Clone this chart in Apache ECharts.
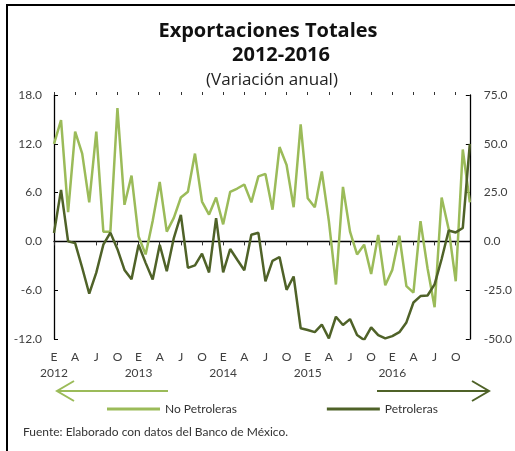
<!DOCTYPE html>
<html>
<head>
<meta charset="utf-8">
<script src="https://cdn.jsdelivr.net/npm/echarts@6/dist/echarts.min.js"></script>
<style>
  html, body { margin: 0; padding: 0; background: #fff; }
  #chart { width: 515px; height: 451px; }
</style>
</head>
<body>
<div id="chart"></div>
<script>
var years = ['2012', '2013', '2014', '2015', '2016'];
var monthLetters = ['E', 'F', 'M', 'A', 'M', 'J', 'J', 'A', 'S', 'O', 'N', 'D'];

// variacion anual, % (ene 2012 - dic 2016)
var noPetroleras = [
    12.0, 14.9, 3.6, 13.5, 10.8, 4.8, 13.5, 1.2, 1.2, 16.4, 4.5, 8.1,
    0.6, -1.6, 2.5, 7.3, 1.2, 2.9, 5.4, 6.1, 10.8, 4.9, 3.3, 5.4,
    2.1, 6.1, 6.5, 7.0, 4.8, 8.0, 8.3, 3.9, 11.6, 9.4, 4.2, 14.4,
    5.3, 4.2, 8.6, 2.5, -5.3, 6.7, 1.2, -1.6, -0.4, -4.0, 0.8, -5.4,
    -3.5, 0.7, -5.5, -6.3, 2.5, -3.3, -8.1, 5.4, 1.5, -4.9, 11.3, 4.8
];
var petroleras = [
    4.3, 26.4, 0.0, -0.9, -13.5, -26.8, -16.0, -1.7, 4.5, -4.0, -14.6, -19.4,
    -1.7, -11.0, -19.5, -1.7, -15.3, 1.7, 13.6, -13.6, -12.3, -6.3, -15.9, 11.9,
    -15.9, -3.9, -9.4, -14.8, 3.4, 4.4, -20.5, -10.0, -8.0, -24.8, -18.0, -44.5,
    -45.4, -46.5, -42.6, -49.7, -38.6, -42.8, -39.8, -48.0, -50.5, -44.0, -48.0, -49.7,
    -48.5, -46.5, -41.5, -31.3, -28.0, -27.7, -22.0, -9.0, 5.6, 4.6, 6.9, 50.0
];

var categories = [];
years.forEach(function (y) {
    monthLetters.forEach(function (m, i) {
        categories.push(i === 0 ? m + '\n' + y : m);
    });
});

var light = '#9bbb59';
var dark = '#4f6228';
var font = 'Lato';
var titleFont = 'Open Sans';

var chart = echarts.init(document.getElementById('chart'));
chart.setOption({
    animation: false,
    textStyle: { fontFamily: font },
    grid: { left: 54, right: 42, top: 95, bottom: 112 },
    legend: {
        left: 102, top: 398,
        itemWidth: 53, itemHeight: 3, itemGap: 90,
        icon: 'rect',
        textStyle: { fontSize: 12, color: '#333', fontFamily: font },
        data: ['No Petroleras', 'Petroleras']
    },
    xAxis: [
        {
            type: 'category', data: categories, boundaryGap: false,
            axisLine: { show: false }, axisTick: { show: false },
            axisLabel: { interval: 2, color: '#404040', fontSize: 12, margin: 10, lineHeight: 16 }
        },
        {
            type: 'category', data: categories, boundaryGap: false,
            axisLine: { onZero: true, lineStyle: { color: '#000', width: 1.3 } },
            axisTick: { interval: 2, inside: true, length: 4, lineStyle: { color: '#333' } },
            axisLabel: { show: false }
        },
        {
            type: 'category', data: categories, boundaryGap: false,
            axisLine: { onZero: true, show: false },
            axisTick: { interval: 2, inside: false, length: 3, lineStyle: { color: '#333' } },
            axisLabel: { show: false }
        }
    ],
    yAxis: [
        {
            type: 'value', min: -12, max: 18, interval: 6,
            axisLine: { show: true, lineStyle: { color: '#000', width: 1.3 } },
            axisTick: { show: true, inside: true, length: 4 },
            splitLine: { show: false },
            axisLabel: { color: '#404040', fontSize: 12, margin: 12,
                formatter: function (v) { return v.toFixed(1); } }
        },
        {
            type: 'value', min: -50, max: 75, interval: 25,
            axisLine: { show: true, lineStyle: { color: '#000', width: 1.3 } },
            axisTick: { show: true, inside: true, length: 4 },
            splitLine: { show: false },
            axisLabel: { color: '#404040', fontSize: 12, margin: 14,
                formatter: function (v) { return v.toFixed(1); } }
        }
    ],
    series: [
        {
            name: 'No Petroleras', type: 'line', data: noPetroleras,
            yAxisIndex: 0, showSymbol: false, color: light,
            lineStyle: { width: 2.5, color: light }
        },
        {
            name: 'Petroleras', type: 'line', data: petroleras,
            yAxisIndex: 1, showSymbol: false, color: dark,
            lineStyle: { width: 2.5, color: dark }
        }
    ],
    graphic: [
        // marco
        { type: 'line', shape: { x1: 7, y1: 5, x2: 515, y2: 5 }, style: { stroke: '#000', lineWidth: 2 } },
        { type: 'line', shape: { x1: 7, y1: 4, x2: 7, y2: 451 }, style: { stroke: '#000', lineWidth: 2 } },
        // titulo
        { type: 'text', x: 268, y: 31, style: { text: 'Exportaciones Totales', font: 'bold 20px "' + titleFont + '"', fill: '#111', align: 'center', verticalAlign: 'middle' } },
        { type: 'text', x: 281, y: 55, style: { text: '2012-2016', font: 'bold 20px "' + titleFont + '"', fill: '#111', align: 'center', verticalAlign: 'middle' } },
        { type: 'text', x: 272, y: 80, style: { text: '(Variación anual)', font: '17px "' + titleFont + '"', fill: '#222', align: 'center', verticalAlign: 'middle' } },
        // flechas
        { type: 'polyline', shape: { points: [[168, 391], [57, 391]] }, style: { stroke: light, lineWidth: 2, fill: null } },
        { type: 'polyline', shape: { points: [[74, 381], [57, 391], [74, 401]] }, style: { stroke: light, lineWidth: 2, fill: null } },
        { type: 'polyline', shape: { points: [[377, 391], [489, 391]] }, style: { stroke: dark, lineWidth: 2, fill: null } },
        { type: 'polyline', shape: { points: [[472, 381], [489, 391], [472, 401]] }, style: { stroke: dark, lineWidth: 2, fill: null } },
        // fuente
        { type: 'text', x: 23, y: 432, style: { text: 'Fuente: Elaborado con datos del Banco de México.', font: '12px ' + font, fill: '#333', verticalAlign: 'middle' } }
    ]
});
</script>
</body>
</html>
